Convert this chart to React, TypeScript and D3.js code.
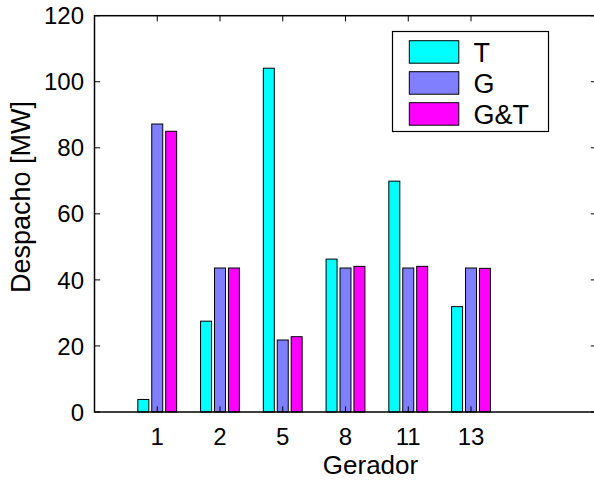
import React from "react";
import * as d3 from "d3";

const categories = ["1", "2", "5", "8", "11", "13"];
const seriesNames = ["T", "G", "G&T"];
const valuesT = [3.8, 27.5, 104.1, 46.3, 69.9, 31.9];
const valuesG = [87.2, 43.6, 21.8, 43.6, 43.6, 43.6];
const valuesGT = [85.0, 43.6, 22.8, 44.1, 44.1, 43.5];
const colors = ["#00FFFF", "#8080FF", "#FF00FF"];
const yTicks = [0, 20, 40, 60, 80, 100, 120];

const W = 594;
const H = 480;
const left = 94.5;
const right = 596.5;
const top = 15.7;
const bottom = 412;
const font = "Liberation Sans, Arial, sans-serif";

export default function App() {
  const x = d3.scaleLinear().domain([0, 8]).range([left, right]);
  const y = d3.scaleLinear().domain([0, 120]).range([bottom, top]);
  const series = [valuesT, valuesG, valuesGT];
  const offsets = [-0.222, 0, 0.222];
  const bw = x(0.175) - x(0);
  const tickLen = 5.7;

  return (
    <svg
      width={W}
      height={H}
      style={{ position: "absolute", left: 0, top: 0, background: "#fff" }}
      fontFamily={font}
    >
      <rect x={0} y={0} width={W} height={H} fill="#fff" />
      {series.map((vals, si) =>
        vals.map((v, ci) => {
          const cx = x(ci + 1 + offsets[si]);
          return (
            <rect
              key={`${si}-${ci}`}
              x={cx - bw / 2}
              y={y(v)}
              width={bw}
              height={y(0) - y(v)}
              fill={colors[si]}
              stroke="#000"
              strokeWidth={1}
            />
          );
        })
      )}
      <rect x={left} y={top} width={right - left} height={bottom - top} fill="none" stroke="#000" strokeWidth={1.5} />
      {yTicks.map((t) => (
        <g key={`y${t}`}>
          <line x1={left} x2={left + tickLen} y1={y(t)} y2={y(t)} stroke="#000" />
          <line x1={right - tickLen} x2={right} y1={y(t)} y2={y(t)} stroke="#000" />
          <text x={84} y={y(t)} dy="0.36em" textAnchor="end" fontSize={24}>
            {t}
          </text>
        </g>
      ))}
      {categories.map((c, i) => (
        <g key={`x${c}`}>
          <line x1={x(i + 1)} x2={x(i + 1)} y1={bottom} y2={bottom - tickLen} stroke="#000" />
          <line x1={x(i + 1)} x2={x(i + 1)} y1={top} y2={top + tickLen} stroke="#000" />
          <text x={x(i + 1)} y={445} textAnchor="middle" fontSize={24}>
            {c}
          </text>
        </g>
      ))}
      <text x={370.5} y={473.5} textAnchor="middle" fontSize={26}>
        Gerador
      </text>
      <text transform={`translate(30, 197) rotate(-90)`} textAnchor="middle" fontSize={27}>
        Despacho [MW]
      </text>
      <rect x={392.5} y={31.5} width={156} height={100} fill="#fff" stroke="#000" strokeWidth={1.2} />
      {seriesNames.map((n, i) => (
        <g key={n}>
          <rect x={409.3} y={40.7 + i * 31} width={49.5} height={22.5} fill={colors[i]} stroke="#000" strokeWidth={1} />
          <text x={473.5} y={51.8 + i * 31} dy="0.36em" fontSize={27}>
            {n}
          </text>
        </g>
      ))}
    </svg>
  );
}
